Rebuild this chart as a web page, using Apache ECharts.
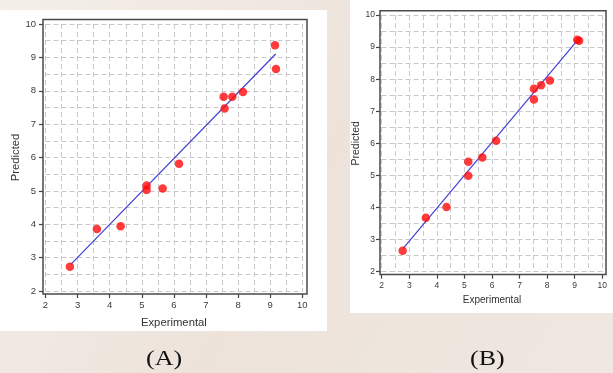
<!DOCTYPE html>
<html>
<head>
<meta charset="utf-8">
<script src="https://cdn.jsdelivr.net/npm/echarts@6/dist/echarts.min.js"></script>
<style>html,body{margin:0;padding:0;}#c{width:613px;height:373px;}</style>
</head>
<body>
<div id="c"></div>
<script>
// ---- data ----
const experimentalA = [2.76, 3.60, 4.34, 5.15, 5.15, 5.65, 6.16, 7.55, 7.58, 7.82, 8.15, 9.15, 9.18];
const predictedA    = [2.73, 3.86, 3.94, 5.16, 5.03, 5.07, 5.81, 7.82, 7.47, 7.82, 7.96, 9.36, 8.65];
const experimentalB = [2.76, 3.60, 4.35, 5.14, 5.14, 5.65, 6.15, 7.52, 7.52, 7.78, 8.10, 9.09, 9.16];
const predictedB    = [2.65, 3.68, 4.02, 5.43, 4.99, 5.56, 6.08, 7.70, 7.37, 7.81, 7.96, 9.23, 9.20];
const fitAx = [2.79, 9.17];
const fitAy = [2.80, 9.10];
const fitBx = [2.78, 9.06];
const fitBy = [2.73, 9.17];
const axisMin = 2, axisMax = 10, axisStep = 1;
const panelLabels = ['(A)', '(B)'];
const xName = 'Experimental', yName = 'Predicted';

const pairs = (xs, ys) => xs.map((x, i) => [x, ys[i]]);

const chart = echarts.init(document.getElementById('c'), null, {renderer: 'canvas'});

const frameGrid = (l, t, w, h) => ({left: l, top: t, width: w, height: h, show: true,
  borderColor: '#4a4a4a', borderWidth: 1.5, backgroundColor: 'transparent', containLabel: false});
const dataGrid = (l, t, w, h) => ({left: l, top: t, width: w, height: h, containLabel: false});

const hiddenAxis = (gi) => ({type: 'value', gridIndex: gi, show: false, min: 0, max: 1});
const dashed = {lineStyle: {color: '#c9c9c9', type: [5, 3], width: 1}};
const mkX = (gi, fs, off, gap, nfs, lm) => ({
  type: 'value', gridIndex: gi, min: axisMin, max: axisMax, interval: axisStep, offset: off,
  name: xName, nameLocation: 'middle', nameGap: gap,
  nameTextStyle: {fontFamily: 'Liberation Sans, Arial', fontSize: nfs, color: '#333'},
  axisLine: {show: false},
  axisTick: {show: true, length: 4, lineStyle: {color: '#444', width: 1.2}},
  axisLabel: {fontFamily: 'Liberation Sans, Arial', fontSize: fs, color: '#3a3a3a', margin: lm},
  splitLine: {show: true, ...dashed},
  minorTick: {show: false, splitNumber: 2},
  minorSplitLine: {show: true, ...dashed}
});
const mkY = (gi, fs, off, gap, nfs, lm) => ({
  type: 'value', gridIndex: gi, min: axisMin, max: axisMax, interval: axisStep, offset: off,
  name: yName, nameLocation: 'middle', nameGap: gap, nameRotate: 90,
  nameTextStyle: {fontFamily: 'Liberation Sans, Arial', fontSize: nfs, color: '#333'},
  axisLine: {show: false},
  axisTick: {show: true, length: 4, lineStyle: {color: '#444', width: 1.2}},
  axisLabel: {fontFamily: 'Liberation Sans, Arial', fontSize: fs, color: '#3a3a3a', margin: lm},
  splitLine: {show: true, ...dashed},
  minorTick: {show: false, splitNumber: 2},
  minorSplitLine: {show: true, ...dashed}
});

const option = {
  backgroundColor: {type: 'linear', x: 0, y: 0, x2: 1, y2: 1,
    colorStops: [{offset: 0, color: '#f4efe9'}, {offset: 0.5, color: '#ede3db'}, {offset: 1, color: '#efe7e0'}]},
  animation: false,
  graphic: [
    {type: 'rect', shape: {x: 0, y: 10, width: 327, height: 321}, style: {fill: '#ffffff'}, z: -10},
    {type: 'rect', shape: {x: 350, y: 0, width: 263, height: 313}, style: {fill: '#ffffff'}, z: -10},
    {type: 'text', x: 146, y: 350, scaleX: 1.3, style: {text: panelLabels[0], font: '20px "Liberation Serif", "Times New Roman", serif', fill: '#111'}},
    {type: 'text', x: 470, y: 350, scaleX: 1.3, style: {text: panelLabels[1], font: '20px "Liberation Serif", "Times New Roman", serif', fill: '#111'}}
  ],
  grid: [
    frameGrid(43, 19.5, 264, 274.5),
    dataGrid(45.5, 24, 256.8, 267),
    frameGrid(380, 10.7, 226, 263.8),
    dataGrid(381.7, 15, 220.6, 256.7)
  ],
  xAxis: [
    hiddenAxis(0),
    mkX(1, 9.5, 3, 23, 11.3, 6),
    hiddenAxis(2),
    mkX(3, 8.5, 3, 21, 10, 6)
  ],
  yAxis: [
    hiddenAxis(0),
    mkY(1, 9.5, 2.5, 20, 11.3, 7),
    hiddenAxis(2),
    mkY(3, 8.5, 1.7, 11, 10.5, 5)
  ],
  series: [
    {type: 'line', xAxisIndex: 1, yAxisIndex: 1, data: pairs(fitAx, fitAy), symbol: 'none',
     lineStyle: {color: '#3f3fd6', width: 1.2}, z: 3},
    {type: 'scatter', xAxisIndex: 1, yAxisIndex: 1, data: pairs(experimentalA, predictedA),
     symbol: 'circle', symbolSize: 8.5, itemStyle: {color: '#ff0a0a'}, z: 5},
    {type: 'line', xAxisIndex: 3, yAxisIndex: 3, data: pairs(fitBx, fitBy), symbol: 'none',
     lineStyle: {color: '#3f3fd6', width: 1.2}, z: 3},
    {type: 'scatter', xAxisIndex: 3, yAxisIndex: 3, data: pairs(experimentalB, predictedB),
     symbol: 'circle', symbolSize: 8.5, itemStyle: {color: '#ff0a0a'}, z: 5}
  ]
};
chart.setOption(option);
</script>
</body>
</html>
